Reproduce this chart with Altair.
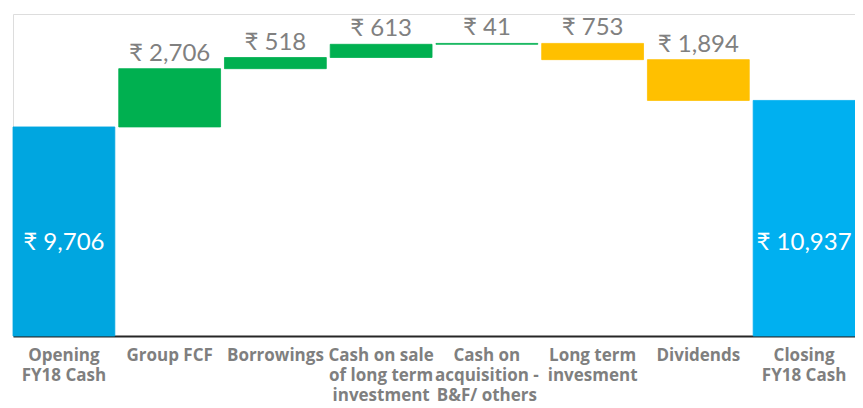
import altair as alt
import pandas as pd

categories = [
    "Opening|FY18 Cash",
    "Group FCF",
    "Borrowings",
    "Cash on sale|of long term|investment",
    "Cash on|acquisition -|B&F/ others",
    "Long term|invesment",
    "Dividends",
    "Closing|FY18 Cash",
]
values = [9706, 2706, 518, 613, 41, -753, -1894, 10937]
kinds = ["open", "up", "up", "up", "up", "down", "down", "close"]

rows = []
running = 0
for i, (c, v, k) in enumerate(zip(categories, values, kinds)):
    if k in ("open", "close"):
        start, end = 0, v
        running = v
    else:
        start, end = running, running + v
        running = end
    rows.append({
        "cat": c, "order": i, "kind": k, "start": start, "end": end,
        "top": max(start, end), "label": f"₹ {abs(v):,}",
    })
df = pd.DataFrame(rows)

color_scale = alt.Scale(
    domain=["open", "up", "down", "close"],
    range=["#00A6E0", "#00B050", "#FFC000", "#00B0F0"],
)

x_enc = alt.X(
    "cat:N", sort=categories, title=None,
    scale=alt.Scale(paddingInner=0.037, paddingOuter=0),
    axis=alt.Axis(
        labelExpr="split(datum.label, '|')",
        labelAngle=0, labelAlign="center", labelBaseline="top",
        labelFont="Open Sans", labelFontWeight="bold", labelFontSize=17,
        labelColor="#7F7F7F", labelLineHeight=20, labelPadding=11,
        labelOverlap=False, labelBound=False, labelLimit=0,
        ticks=False, grid=False, domainColor="#262626", domainWidth=2,
    ),
)
y_scale = alt.Scale(domain=[0, 14950], nice=False, zero=True)

base = alt.Chart(df)

bars = base.mark_bar(strokeWidth=0.8).encode(
    x=x_enc,
    y=alt.Y("start:Q", scale=y_scale, axis=None),
    y2="end:Q",
    color=alt.Color("kind:N", scale=color_scale, legend=None),
    stroke=alt.Stroke("kind:N", scale=color_scale, legend=None),
)

above = base.transform_filter(
    "datum.kind == 'up' || datum.kind == 'down'"
).mark_text(
    font="Lato", fontSize=24, color="#808080", baseline="bottom", dy=-3
).encode(
    x=alt.X("cat:N", sort=categories),
    y=alt.Y("top:Q", scale=y_scale),
    text="label:N",
)

inside = base.transform_filter(
    "datum.kind == 'open' || datum.kind == 'close'"
).mark_text(
    font="Lato", fontSize=24, color="white", baseline="middle"
).encode(
    x=alt.X("cat:N", sort=categories),
    y=alt.value(229),
    text="label:N",
)

chart = alt.layer(bars, above, inside).properties(
    width=842, height=322,
    autosize=alt.AutoSizeParams(type="none"),
    padding={"left": 5, "top": 6, "right": 0, "bottom": 72},
).configure_view(stroke=None).configure(background="white")

chart.save("out.html", embed_options={"renderer": "svg", "actions": False})
